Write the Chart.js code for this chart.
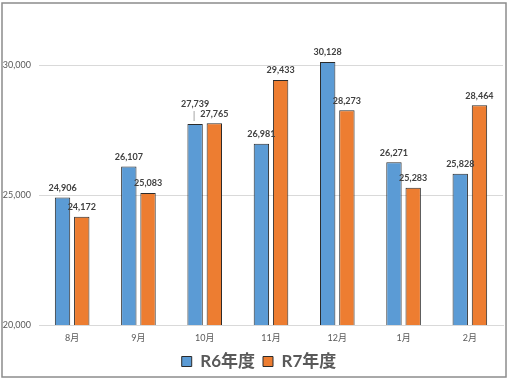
<!DOCTYPE html>
<html><head><meta charset="utf-8">
<script src="https://cdn.jsdelivr.net/npm/chart.js@4/dist/chart.umd.min.js"></script>
<style>html,body{margin:0;padding:0;background:#fff}#wrap{width:518px;height:380px}</style>
</head><body><div id="wrap"><canvas id="c" width="518" height="380"></canvas></div>
<script>
const categories = ['8月','9月','10月','11月','12月','1月','2月'];
const seriesNames = ['R6年度','R7年度'];
const r6Values = [24906, 26107, 27739, 26981, 30128, 26271, 25828];
const r7Values = [24172, 25083, 27765, 29433, 28273, 25283, 28464];
const yTicks = [20000, 25000, 30000];

const FONT = 'Lato, "Noto Sans CJK JP", sans-serif';

const frame = {
  id: 'frame',
  afterDraw(chart) {
    const ctx = chart.ctx;
    ctx.save();
    ctx.strokeStyle = '#8c8c8c';
    ctx.lineWidth = 1.5;
    ctx.strokeRect(2, 3, 504, 374);
    ctx.restore();
  }
};

const valueLabels = {
  id: 'valueLabels',
  afterDatasetsDraw(chart) {
    const ctx = chart.ctx;
    ctx.save();
    ctx.font = 'bold 9px ' + FONT;
    ctx.fillStyle = '#404040';
    ctx.textAlign = 'center';
    ctx.textBaseline = 'bottom';
    chart.data.datasets.forEach((ds, di) => {
      const meta = chart.getDatasetMeta(di);
      meta.data.forEach((bar, i) => {
        const txt = ds.data[i].toLocaleString('en-US');
        let lift = 5;
        if (di === 0 && i === 2) {
          lift = 15;
          ctx.strokeStyle = '#a6a6a6';
          ctx.lineWidth = 1;
          ctx.beginPath();
          ctx.moveTo(bar.x - 1, bar.y - 13);
          ctx.lineTo(bar.x - 1, bar.y - 3);
          ctx.stroke();
        }
        ctx.fillText(txt, bar.x, bar.y - lift);
      });
    });
    ctx.restore();
  }
};

new Chart(document.getElementById('c'), {
  type: 'bar',
  data: {
    labels: categories,
    datasets: [
      { label: seriesNames[0], data: r6Values, backgroundColor: '#5B9BD5', borderColor: '#2b2b2b', borderWidth: 1 },
      { label: seriesNames[1], data: r7Values, backgroundColor: '#ED7D31', borderColor: '#2b2b2b', borderWidth: 1 }
    ]
  },
  options: {
    responsive: false,
    animation: false,
    devicePixelRatio: 1,
    layout: { padding: { top: 13, left: 0, right: 0, bottom: 0 } },
    datasets: { bar: { categoryPercentage: 0.58, barPercentage: 0.8 } },
    scales: {
      x: {
        afterFit: s => { s.height = 20; },
        grid: { display: false, drawTicks: false },
        border: { display: true, color: '#d9d9d9' },
        ticks: { color: '#595959', font: { family: FONT, size: 9 }, padding: 8 }
      },
      y: {
        min: 20000, max: 32000,
        afterBuildTicks: axis => { axis.ticks = yTicks.map(v => ({ value: v })); },
        afterFit: s => { s.width = 39; },
        grid: { color: '#d9d9d9', drawTicks: false },
        border: { display: false },
        ticks: { color: '#595959', font: { family: FONT, size: 9 }, padding: 8,
                 callback: v => v.toLocaleString('en-US') }
      },
      yR: {
        position: 'right', display: true,
        grid: { display: false, drawTicks: false }, border: { display: false },
        ticks: { display: false },
        afterFit: s => { s.width = 15; }
      }
    },
    plugins: {
      legend: {
        position: 'bottom',
        labels: {
          boxWidth: 10, boxHeight: 10, padding: 8,
          color: '#595959',
          font: { family: FONT, size: 17, weight: 'bold' }
        }
      },
      tooltip: { enabled: false }
    }
  },
  plugins: [valueLabels, frame]
});
</script></body></html>
